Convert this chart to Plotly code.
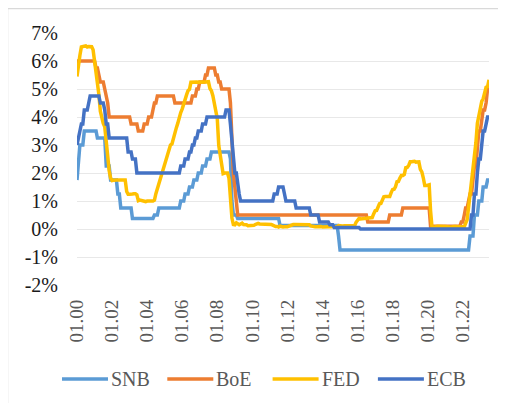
import pandas as pd
import plotly.graph_objects as go

# Monthly policy rates, Jan 2000 - Jul 2023 (in %)
months = pd.date_range("2000-01-01", "2023-07-01", freq="MS")

snb = (
    [1.75, 2.25, 3.0, 3.0, 3.0, 3.5, 3.5, 3.5, 3.5, 3.5, 3.5, 3.5]  # 2000
    + [3.5, 3.5, 3.25, 3.25, 3.25, 3.25, 3.25, 3.25, 2.25, 2.25, 2.25, 1.75]  # 2001
    + [1.75, 1.75, 1.75, 1.75, 1.25, 1.25, 0.75, 0.75, 0.75, 0.75, 0.75, 0.75]  # 2002
    + [0.75, 0.75] + [0.375] * 10  # 2003
    + [0.375] * 5 + [0.5, 0.5, 0.5, 0.75, 0.75, 0.75, 0.75]  # 2004
    + [0.75] * 11 + [1.0]  # 2005
    + [1.0, 1.0, 1.25, 1.25, 1.25, 1.5, 1.5, 1.5, 1.75, 1.75, 1.75, 2.0]  # 2006
    + [2.0, 2.0, 2.25, 2.25, 2.25, 2.5, 2.5, 2.5, 2.75, 2.75, 2.75, 2.75]  # 2007
    + [2.75] * 9 + [2.5, 1.0, 0.5]  # 2008
    + [0.5, 0.5] + [0.375] * 10  # 2009
    + [0.375] * 12  # 2010
    + [0.375] * 7 + [0.125] * 5  # 2011
    + [0.125] * 12  # 2012
    + [0.125] * 12  # 2013
    + [0.125] * 11 + [-0.25]  # 2014
    + [-0.75] * 84  # 2015-2021
    + [-0.75] * 5 + [-0.25, -0.25, -0.25, 0.5, 0.5, 0.5, 1.0]  # 2022
    + [1.0, 1.0, 1.5, 1.5, 1.5, 1.75, 1.75]  # 2023
)

boe = (
    [5.75] + [6.0] * 11  # 2000
    + [6.0, 5.75, 5.75, 5.5, 5.25, 5.25, 5.25, 5.0, 4.75, 4.5, 4.0, 4.0]  # 2001
    + [4.0] * 12  # 2002
    + [4.0, 3.75, 3.75, 3.75, 3.75, 3.75, 3.5, 3.5, 3.5, 3.5, 3.75, 3.75]  # 2003
    + [3.75, 4.0, 4.0, 4.0, 4.25, 4.5, 4.5, 4.75, 4.75, 4.75, 4.75, 4.75]  # 2004
    + [4.75] * 7 + [4.5] * 5  # 2005
    + [4.5] * 7 + [4.75, 4.75, 4.75, 5.0, 5.0]  # 2006
    + [5.25, 5.25, 5.25, 5.25, 5.5, 5.5, 5.75, 5.75, 5.75, 5.75, 5.75, 5.5]  # 2007
    + [5.5, 5.25, 5.25, 5.0, 5.0, 5.0, 5.0, 5.0, 5.0, 4.5, 3.0, 2.0]  # 2008
    + [1.5, 1.0] + [0.5] * 10  # 2009
    + [0.5] * 72  # 2010-2015
    + [0.5] * 7 + [0.25] * 5  # 2016
    + [0.25] * 10 + [0.5, 0.5]  # 2017
    + [0.5] * 7 + [0.75] * 5  # 2018
    + [0.75] * 12  # 2019
    + [0.75, 0.75] + [0.1] * 10  # 2020
    + [0.1] * 11 + [0.25]  # 2021
    + [0.25, 0.5, 0.75, 0.75, 1.0, 1.25, 1.25, 1.75, 2.25, 2.25, 3.0, 3.5]  # 2022
    + [3.5, 4.0, 4.25, 4.25, 4.5, 5.0, 5.0]  # 2023
)

fed = (
    [5.45, 5.9, 6.2, 6.5, 6.5, 6.53, 6.54, 6.50, 6.52, 6.51, 6.51, 6.40]  # 2000
    + [5.98, 5.49, 5.31, 4.80, 4.21, 3.97, 3.77, 3.65, 3.07, 2.49, 2.09, 1.82]  # 2001
    + [1.73, 1.74, 1.73, 1.75, 1.75, 1.75, 1.73, 1.74, 1.75, 1.75, 1.34, 1.24]  # 2002
    + [1.24, 1.26, 1.25, 1.26, 1.26, 1.22, 1.01, 1.03, 1.01, 1.01, 1.00, 0.98]  # 2003
    + [1.00, 1.01, 1.00, 1.00, 1.00, 1.03, 1.26, 1.43, 1.61, 1.76, 1.93, 2.16]  # 2004
    + [2.28, 2.50, 2.63, 2.79, 3.00, 3.04, 3.26, 3.50, 3.62, 3.78, 4.00, 4.16]  # 2005
    + [4.29, 4.49, 4.59, 4.79, 4.94, 4.99, 5.24, 5.25, 5.25, 5.25, 5.25, 5.24]  # 2006
    + [5.25, 5.26, 5.26, 5.25, 5.25, 5.25, 5.26, 5.02, 4.94, 4.76, 4.49, 4.24]  # 2007
    + [3.94, 2.98, 2.61, 2.28, 1.98, 2.00, 2.01, 2.00, 1.81, 0.97, 0.39, 0.16]  # 2008
    + [0.15, 0.22, 0.18, 0.15, 0.18, 0.21, 0.16, 0.16, 0.15, 0.12, 0.12, 0.12]  # 2009
    + [0.11, 0.13, 0.16, 0.20, 0.20, 0.18, 0.18, 0.19, 0.19, 0.19, 0.19, 0.18]  # 2010
    + [0.17, 0.16, 0.14, 0.10, 0.09, 0.09, 0.07, 0.10, 0.08, 0.07, 0.08, 0.07]  # 2011
    + [0.08, 0.10, 0.13, 0.14, 0.16, 0.16, 0.16, 0.13, 0.14, 0.16, 0.16, 0.16]  # 2012
    + [0.14, 0.15, 0.14, 0.15, 0.11, 0.09, 0.09, 0.08, 0.08, 0.09, 0.08, 0.09]  # 2013
    + [0.07, 0.07, 0.08, 0.09, 0.09, 0.10, 0.09, 0.09, 0.09, 0.09, 0.09, 0.12]  # 2014
    + [0.11, 0.11, 0.11, 0.12, 0.12, 0.13, 0.13, 0.14, 0.14, 0.12, 0.12, 0.24]  # 2015
    + [0.34, 0.38, 0.36, 0.37, 0.37, 0.38, 0.39, 0.40, 0.40, 0.40, 0.41, 0.54]  # 2016
    + [0.65, 0.66, 0.79, 0.90, 0.91, 1.04, 1.15, 1.16, 1.15, 1.15, 1.16, 1.30]  # 2017
    + [1.41, 1.42, 1.51, 1.69, 1.70, 1.82, 1.91, 1.91, 1.95, 2.19, 2.20, 2.27]  # 2018
    + [2.40, 2.40, 2.41, 2.42, 2.39, 2.38, 2.40, 2.13, 2.04, 1.83, 1.55, 1.55]  # 2019
    + [1.55, 1.58, 0.65, 0.05, 0.05, 0.08, 0.09, 0.10, 0.09, 0.09, 0.09, 0.09]  # 2020
    + [0.09, 0.08, 0.07, 0.07, 0.06, 0.08, 0.10, 0.09, 0.08, 0.08, 0.08, 0.08]  # 2021
    + [0.08, 0.08, 0.20, 0.33, 0.77, 1.21, 1.68, 2.33, 2.56, 3.08, 3.78, 4.10]  # 2022
    + [4.33, 4.57, 4.65, 4.83, 5.06, 5.08, 5.33]  # 2023
)

ecb = (
    [3.0, 3.25, 3.5, 3.75, 3.75, 4.25, 4.25, 4.25, 4.5, 4.75, 4.75, 4.75]  # 2000
    + [4.75, 4.75, 4.75, 4.75, 4.5, 4.5, 4.5, 4.25, 3.75, 3.75, 3.25, 3.25]  # 2001
    + [3.25] * 11 + [2.75]  # 2002
    + [2.75, 2.75, 2.5, 2.5, 2.5] + [2.0] * 7  # 2003
    + [2.0] * 12  # 2004
    + [2.0] * 11 + [2.25]  # 2005
    + [2.25, 2.25, 2.5, 2.5, 2.5, 2.75, 2.75, 3.0, 3.0, 3.25, 3.25, 3.5]  # 2006
    + [3.5, 3.5, 3.75, 3.75, 3.75] + [4.0] * 7  # 2007
    + [4.0] * 6 + [4.25, 4.25, 4.25, 3.75, 3.25, 2.5]  # 2008
    + [2.0, 2.0, 1.5, 1.25] + [1.0] * 8  # 2009
    + [1.0] * 12  # 2010
    + [1.0, 1.0, 1.0, 1.25, 1.25, 1.25, 1.5, 1.5, 1.5, 1.5, 1.25, 1.0]  # 2011
    + [1.0] * 6 + [0.75] * 6  # 2012
    + [0.75] * 4 + [0.5] * 6 + [0.25, 0.25]  # 2013
    + [0.25] * 5 + [0.15, 0.15, 0.15] + [0.05] * 4  # 2014
    + [0.05] * 12  # 2015
    + [0.05, 0.05] + [0.0] * 10  # 2016
    + [0.0] * 60  # 2017-2021
    + [0.0] * 6 + [0.5, 0.5, 1.25, 1.25, 2.0, 2.5]  # 2022
    + [2.5, 3.0, 3.5, 3.5, 3.75, 4.0, 4.0]  # 2023
)

series_names = ["SNB", "BoE", "FED", "ECB"]
series_values = [snb, boe, fed, ecb]
series_colors = ["#5B9BD5", "#ED7D31", "#FFC000", "#4472C4"]

tick_dates = pd.date_range("2000-01-01", "2022-01-01", freq="24MS")
tick_labels = ["01.00", "01.02", "01.04", "01.06", "01.08", "01.10",
               "01.12", "01.14", "01.16", "01.18", "01.20", "01.22"]
y_ticks = [-2, -1, 0, 1, 2, 3, 4, 5, 6, 7]
y_labels = ["-2%", "-1%", "0%", "1%", "2%", "3%", "4%", "5%", "6%", "7%"]

FONT = "Liberation Serif"

# page offset of the figure (browser body margin)
OFF = 8
# plot area in figure pixels
L, T, W, H = 77 - OFF, 33 - OFF, 412, 252
FIG_W, FIG_H = 506 - 2 * OFF, 411 - 2 * OFF


def px_x(px):
    return (px - OFF - L) / W


def px_y(py):
    return (T + H - (py - OFF)) / H


fig = go.Figure()
for name, vals, col in zip(series_names, series_values, series_colors):
    fig.add_trace(go.Scatter(
        x=months, y=vals, name=name, mode="lines",
        line=dict(color=col, width=3.5), showlegend=False,
    ))

x_range = [months[0], months[-1]]

legend_shapes = []
legend_annots = []
leg_y = px_y(379)
for i, (name, col) in enumerate(zip(series_names, series_colors)):
    x0 = 62 + i * 105.3
    legend_shapes.append(dict(
        type="line", xref="paper", yref="paper",
        x0=px_x(x0), x1=px_x(x0 + 46), y0=leg_y, y1=leg_y,
        line=dict(color=col, width=3.5),
    ))
    legend_annots.append(dict(
        xref="paper", yref="paper", x=px_x(x0 + 47), y=leg_y,
        xanchor="left", yanchor="middle", showarrow=False, text=name,
        font=dict(family=FONT, size=20, color="#595959"),
    ))

frame = dict(
    type="rect", xref="paper", yref="paper",
    x0=px_x(7.5), x1=px_x(600), y0=px_y(500), y1=px_y(8.5),
    line=dict(color="#D9D9D9", width=1.5), fillcolor="rgba(0,0,0,0)",
    layer="below",
)

fig.update_layout(
    width=FIG_W, height=FIG_H,
    margin=dict(l=L, r=FIG_W - L - W, t=T, b=FIG_H - T - H),
    paper_bgcolor="white", plot_bgcolor="white",
    font=dict(family=FONT, size=18, color="#595959"),
    showlegend=False,
    xaxis=dict(
        type="date", range=x_range, automargin=False,
        tickvals=list(tick_dates), ticktext=tick_labels,
        tickangle=-90, showgrid=False, showline=False, ticks="",
        zeroline=False, ticklabelstandoff=10,
        tickfont=dict(family=FONT, size=19, color="#595959"),
    ),
    xaxis2=dict(
        type="date", range=x_range, overlaying="x", anchor="free",
        position=2 / 9, side="bottom",
        tickvals=list(tick_dates), showticklabels=False,
        showline=True, linecolor="#D9D9D9", linewidth=1.3,
        ticks="outside", ticklen=7, tickcolor="#D9D9D9", tickwidth=1.3,
        showgrid=False, zeroline=False,
    ),
    yaxis=dict(
        range=[-2, 7], tickvals=y_ticks, ticktext=y_labels, automargin=False,
        showgrid=True, gridcolor="#E8E8E8", gridwidth=1,
        zeroline=False, showline=False, ticks="",
        ticklabelstandoff=18,
        tickfont=dict(family=FONT, size=20, color="#1A1A1A"),
    ),
    shapes=[frame] + legend_shapes,
    annotations=legend_annots,
)

fig.write_html("out.html")
